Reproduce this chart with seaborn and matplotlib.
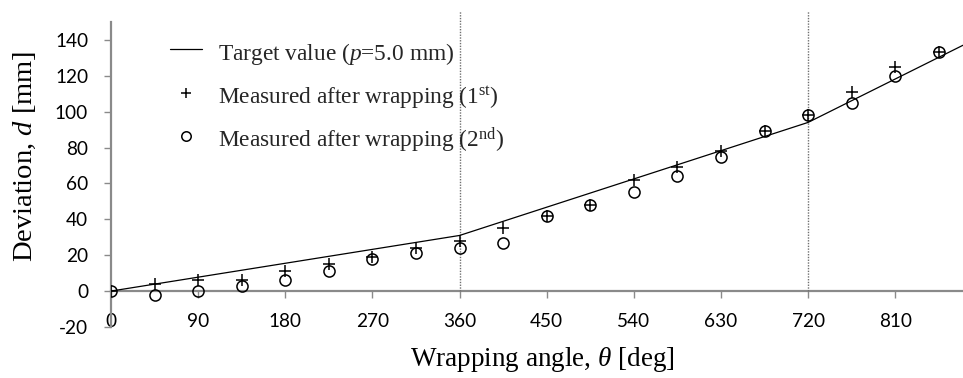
import matplotlib
matplotlib.use("Agg")
import matplotlib.pyplot as plt
import seaborn as sns
import pandas as pd

# Wrapping angle (deg) of the measurement stations
theta_meas = [0, 45, 90, 135, 180, 225, 270, 315, 360, 405,
              450, 495, 540, 585, 630, 675, 720, 765, 810, 855]
# Deviation measured after the 1st wrapping (mm)
d_first = [0, 4, 6, 6, 11, 15, 19, 24, 28, 35,
           42, 48, 62, 69, 78, 89, 98, 111, 125, 133]
# Deviation measured after the 2nd wrapping (mm)
d_second = [0, -2, 0, 3, 6, 11, 18, 21, 24, 27,
            42, 48, 55, 64, 75, 89, 98, 105, 120, 133]
# Target curve for pitch p = 5.0 mm
theta_target = [0, 360, 720, 880]
d_target = [0, 31, 94, 137]

x_ticks = [0, 90, 180, 270, 360, 450, 540, 630, 720, 810]
y_ticks = [-20, 0, 20, 40, 60, 80, 100, 120, 140]
turn_marks = [360, 720]

sns.set_theme(style="white")
plt.rcParams["font.family"] = ["Liberation Serif", "DejaVu Serif"]
plt.rcParams["mathtext.fontset"] = "custom"
plt.rcParams["mathtext.rm"] = "Liberation Serif"
plt.rcParams["mathtext.it"] = "Liberation Serif:italic"
plt.rcParams["axes.unicode_minus"] = False

df_target = pd.DataFrame({"theta": theta_target, "d": d_target})
df_meas = pd.DataFrame({"theta": theta_meas, "d1": d_first, "d2": d_second})

fig = plt.figure(figsize=(9.63, 3.78), dpi=100)
ax = fig.add_axes([0.1153, 0.135, 0.8847, 0.807])

axis_gray = "#8a8a8a"

sns.lineplot(data=df_target, x="theta", y="d", ax=ax, color="black",
             linewidth=0.9, label="Target value ($p$=5.0 mm)", zorder=3)
sns.lineplot(data=df_meas, x="theta", y="d1", ax=ax, color="black",
             linestyle="none", marker="+", markersize=8, markeredgewidth=1.1,
             markeredgecolor="black", markerfacecolor="black",
             label=r"Measured after wrapping (1$^{\mathrm{st}}$)", zorder=4)
sns.lineplot(data=df_meas, x="theta", y="d2", ax=ax, color="black",
             linestyle="none", marker="o", markersize=8, markeredgewidth=1.1,
             markerfacecolor="none", markeredgecolor="black",
             label=r"Measured after wrapping (2$^{\mathrm{nd}}$)", zorder=4)

# full-turn markers
for t in turn_marks:
    ax.plot([t, t], [0, 156], color="#707070", linewidth=1.0,
            linestyle=(0, (1, 1)), clip_on=False, zorder=2)

ax.set_xlim(0, 880)
ax.set_ylim(-20, 150)
ax.set_xticks(x_ticks)
ax.set_yticks(y_ticks)

for side in ("top", "right"):
    ax.spines[side].set_visible(False)
ax.spines["bottom"].set_position(("data", 0))
for side in ("left", "bottom"):
    ax.spines[side].set_color(axis_gray)
    ax.spines[side].set_linewidth(1.6)
    ax.spines[side].set_zorder(1)

ax.tick_params(axis="x", direction="out", length=5, width=1.0, color=axis_gray,
               pad=11, labelsize=13.7, bottom=True)
ax.tick_params(axis="y", direction="out", length=5, width=1.0, color=axis_gray,
               pad=11.5, labelsize=13.7, left=True)
for lab in ax.get_xticklabels() + ax.get_yticklabels():
    lab.set_fontfamily(["Lato", "DejaVu Sans"])
    lab.set_color("black")

ax.set_xlabel(r"Wrapping angle, $\theta$ [deg]", fontsize=19.5, color="black")
ax.set_ylabel("Deviation, $d$ [mm]", fontsize=20.5, color="black")
ax.xaxis.set_label_coords(0.506, -0.059)
ax.yaxis.set_label_coords(-0.086, 0.56)

ax.legend(loc="upper left", bbox_to_anchor=(0.069, 0.947), frameon=False,
          fontsize=16.8, borderpad=0, borderaxespad=0, handlelength=1.4,
          handleheight=1.5, handletextpad=0.65, labelspacing=0.63,
          markerscale=0.85)

fig.savefig("out.png", dpi=100)
